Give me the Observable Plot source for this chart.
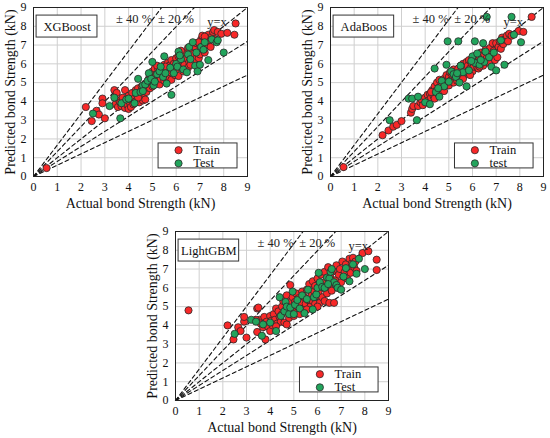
<!DOCTYPE html>
<html>
<head>
<meta charset="utf-8">
<script src="https://cdn.jsdelivr.net/npm/d3@7"></script>
<script src="https://cdn.jsdelivr.net/npm/@observablehq/plot@0.6"></script>
<style>
  body { margin: 0; background: #fff; }
  #fig { position: relative; width: 550px; height: 438px; background: #fff; overflow: hidden; }
  .panel { position: absolute; }
</style>
</head>
<body>
<div id="fig"></div>
<script>
// ---------- data ----------
const tickValues = [0, 1, 2, 3, 4, 5, 6, 7, 8, 9];
const guideSlopes = [1.67, 1.33, 1, 0.8, 0.6];
const guideLabels = ["± 40 %", "± 20 %", "y=x"];
const modelNames = ["XGBoost", "AdaBoos", "LightGBM"];
const legendXGB = ["Train", "Test"];
const legendAda = ["Train", "test"];
const legendLGB = ["Train", "Test"];

const xgbTrain = [[0.55,0.45],[2.2,3.7],[2.45,2.95],[2.65,3.5],[2.75,3.3],[2.9,4.15],[2.9,3.9],[3.0,3.1],
[3.4,4.6],[3.5,4.45],[3.45,3.85],[3.55,3.7],[3.6,4.05],[3.65,3.95],[3.7,3.75],[3.75,4.2],[3.8,3.9],[3.85,4.6],[3.85,3.65],[3.9,4.0],[3.95,3.8],[4.0,4.3],[4.0,3.6],[4.05,3.95],[4.1,4.1],[4.1,3.7],[4.15,4.45],[4.2,3.85],[4.25,4.15],[4.3,4.6],[4.3,4.0],[4.35,4.35],[4.4,4.7],[4.45,3.95],[4.5,4.5],[4.55,4.8],[4.6,4.3],[4.6,4.05],[4.65,4.6],[4.7,4.95],[4.7,4.1],[4.75,4.5],[4.8,4.75],[4.85,5.2],[4.9,4.7],[4.95,5.0],[5.0,5.6],[5.0,4.8],[5.05,5.25],[5.1,5.75],[5.1,4.95],[5.15,5.4],[5.2,5.1],[5.25,5.7],[5.3,4.9],[5.3,5.45],[5.35,5.2],[5.4,5.8],[5.45,5.55],[5.5,5.1],[5.5,5.95],[5.55,5.4],[5.6,5.7],[5.65,6.05],[5.7,5.25],[5.7,5.9],[5.75,5.55],[5.8,6.2],[5.8,5.15],[5.85,5.75],[5.9,6.0],[5.95,5.4],[6.0,6.3],[6.0,5.7],[6.05,5.9],[6.1,6.4],[6.1,5.35],[6.15,6.1],[6.2,5.8],[6.25,6.5],[6.3,6.2],[6.3,5.6],[6.35,5.95],[6.4,6.6],[6.45,6.3],[6.5,5.8],[6.5,6.85],[6.55,6.1],[6.6,6.45],[6.65,6.75],[6.7,6.0],[6.75,6.55],[6.8,6.9],[6.8,6.25],[6.85,7.1],[6.9,6.6],[6.95,6.3],[7.0,7.0],[7.0,6.5],[7.05,7.3],[7.1,6.8],[7.1,7.5],[7.15,7.15],[7.2,6.6],[7.25,7.4],[7.3,7.0],[7.35,7.55],[7.4,7.25],[7.45,6.9],[7.5,7.45],[7.55,7.7],[7.6,7.8],[7.65,7.3],[7.75,7.7],[7.9,7.6],[8.15,7.65],[8.45,7.55],[8.5,8.15],[5.2,5.9],[5.55,5.85],[4.4,4.2],[6.2,6.7],[6.6,5.95],[7.2,7.45],[6.95,7.15]];
const xgbTest = [[2.5,3.35],[3.2,3.75],[3.4,4.2],[3.65,3.1],[3.7,3.9],[3.9,4.1],[4.0,4.15],[4.25,3.9],[4.3,4.45],[4.4,5.2],[4.5,4.5],[4.6,4.85],[4.7,4.9],[4.8,5.1],[4.85,5.5],[4.95,5.2],[5.0,6.1],[5.05,4.85],[5.1,5.05],[5.2,5.45],[5.3,5.6],[5.45,5.3],[5.5,6.4],[5.55,5.5],[5.6,4.95],[5.8,4.35],[5.75,5.8],[5.9,5.5],[6.0,6.0],[6.05,5.85],[6.1,6.65],[6.2,6.25],[6.3,5.7],[6.45,5.55],[6.5,6.5],[6.55,6.9],[6.6,6.25],[6.7,7.15],[6.8,5.9],[6.85,6.6],[6.9,5.6],[7.0,5.95],[7.05,6.9],[7.15,6.75],[7.2,7.15],[7.35,6.2],[7.5,7.3],[7.7,7.15],[7.75,7.25],[8.0,6.6],[6.15,6.45],[5.35,5.85],[4.6,4.55]];

const adaTrain = [[0.55,0.5],[2.2,2.2],[2.45,2.45],[2.65,2.65],[2.8,2.75],[3.0,2.95],[3.4,3.4],[3.45,3.6],[3.5,3.75],[3.7,3.75],[3.8,3.95],[3.85,4.1],[3.9,3.8],[4.0,4.2],[4.05,3.95],[4.1,4.35],[4.15,4.05],[4.2,4.4],[4.25,4.2],[4.3,4.6],[4.35,4.3],[4.4,4.8],[4.4,4.15],[4.45,4.55],[4.5,5.0],[4.55,4.4],[4.6,4.75],[4.6,5.15],[4.65,4.6],[4.7,4.95],[4.75,4.7],[4.8,5.2],[4.85,4.9],[4.9,5.4],[4.95,5.05],[5.0,5.3],[5.0,4.85],[5.05,5.55],[5.1,5.15],[5.15,5.4],[5.2,5.0],[5.2,5.7],[5.25,5.3],[5.3,5.55],[5.35,5.1],[5.4,5.75],[5.45,5.45],[5.5,5.9],[5.5,5.25],[5.55,5.6],[5.6,6.0],[5.65,5.4],[5.7,5.8],[5.75,6.1],[5.8,5.55],[5.8,5.9],[5.85,6.2],[5.9,5.75],[5.95,6.05],[6.0,5.6],[6.0,6.3],[6.05,5.85],[6.1,6.15],[6.15,6.45],[6.2,5.8],[6.2,6.0],[6.25,5.75],[6.3,6.3],[6.35,6.6],[6.4,6.1],[6.45,5.9],[6.5,6.5],[6.55,6.75],[6.6,6.3],[6.65,6.6],[6.7,6.05],[6.75,6.85],[6.8,6.4],[6.85,7.1],[6.9,6.7],[6.95,6.2],[7.0,7.1],[7.05,6.35],[7.1,6.9],[7.15,7.2],[7.2,6.8],[7.25,7.4],[7.3,7.05],[7.35,7.3],[7.45,7.5],[7.5,7.2],[7.55,7.6],[7.65,7.5],[7.95,7.75],[8.15,7.7],[8.5,8.5],[5.9,5.4],[6.3,5.85],[4.25,4.5],[4.8,4.55],[5.6,5.2]];
const adaTest = [[2.5,3.0],[3.3,4.15],[3.45,4.15],[3.65,3.0],[3.7,4.25],[4.0,3.95],[4.2,3.85],[4.4,5.75],[4.45,4.5],[4.6,4.25],[4.7,5.1],[4.8,4.8],[4.9,5.95],[4.95,7.2],[5.0,5.05],[5.1,5.6],[5.2,5.45],[5.3,5.3],[5.4,7.2],[5.45,5.0],[5.5,5.9],[5.6,5.55],[5.75,4.8],[5.85,5.65],[6.0,6.4],[6.1,6.05],[6.1,7.2],[6.2,6.55],[6.3,5.95],[6.45,7.1],[6.5,6.1],[6.55,6.65],[6.6,8.5],[6.7,6.35],[6.8,5.85],[6.9,6.6],[7.0,5.65],[7.2,7.25],[7.35,5.95],[7.65,8.5],[7.75,7.55],[8.05,7.15],[5.35,5.5],[4.55,4.7],[6.35,6.2],[5.95,6.15]];

const lgbTrain = [[0.55,4.8],[2.2,4.0],[2.45,3.25],[2.65,3.9],[2.75,3.7],[2.9,4.2],[2.9,4.45],[3.0,3.35],[3.45,4.9],[3.5,4.95],[3.45,3.65],[3.55,4.3],[3.6,4.1],[3.7,3.9],[3.75,4.45],[3.8,3.25],[3.85,4.2],[3.9,3.95],[4.0,3.7],[4.0,4.5],[4.05,4.25],[4.1,4.0],[4.15,4.6],[4.2,4.3],[4.25,4.9],[4.3,4.1],[4.35,4.75],[4.4,4.45],[4.45,4.2],[4.5,5.0],[4.5,4.6],[4.55,5.3],[4.6,4.15],[4.65,4.8],[4.7,4.05],[4.7,5.6],[4.75,5.05],[4.8,4.4],[4.85,6.15],[4.85,5.3],[4.9,4.7],[4.95,5.5],[5.0,4.95],[5.0,4.5],[5.05,5.25],[5.1,5.7],[5.1,4.75],[5.15,5.0],[5.2,5.45],[5.25,4.6],[5.3,5.2],[5.35,5.8],[5.4,4.9],[5.45,5.5],[5.5,5.15],[5.55,5.9],[5.6,5.35],[5.65,6.2],[5.7,5.0],[5.75,5.6],[5.8,6.35],[5.8,5.3],[5.85,5.85],[5.9,6.1],[5.9,5.15],[5.95,5.55],[6.0,6.5],[6.05,5.8],[6.1,5.2],[6.1,6.2],[6.15,6.7],[6.2,5.5],[6.25,6.0],[6.3,6.85],[6.3,5.3],[6.35,6.35],[6.4,5.7],[6.45,7.1],[6.5,6.15],[6.5,5.2],[6.55,6.55],[6.6,5.85],[6.65,6.9],[6.7,5.2],[6.75,6.4],[6.8,7.2],[6.85,6.0],[6.9,6.7],[6.95,7.0],[7.0,6.3],[7.05,7.4],[7.1,6.6],[7.15,6.85],[7.2,7.25],[7.25,6.5],[7.3,7.0],[7.35,7.55],[7.4,6.8],[7.45,7.3],[7.5,7.6],[7.55,7.1],[7.6,7.4],[7.65,6.9],[7.9,7.85],[8.15,7.95],[8.5,7.5],[8.5,6.95],[3.4,4.3],[4.25,3.95],[5.55,4.85],[6.0,5.0]];
const lgbTest = [[2.5,3.55],[3.2,4.3],[3.4,4.2],[3.65,3.45],[3.7,4.05],[4.0,4.15],[4.25,3.7],[4.4,5.5],[4.45,4.5],[4.6,4.75],[4.65,5.25],[4.7,5.0],[4.8,4.6],[4.85,4.95],[4.95,5.8],[5.0,4.6],[5.05,5.1],[5.15,5.35],[5.25,4.9],[5.35,5.6],[5.45,4.65],[5.55,5.4],[5.8,4.85],[5.85,5.5],[5.95,5.65],[6.0,6.0],[6.05,6.8],[6.1,6.3],[6.2,6.05],[6.3,6.0],[6.4,6.55],[6.5,6.5],[6.55,6.85],[6.6,7.0],[6.7,6.3],[6.8,6.15],[6.85,6.0],[7.0,5.9],[7.1,6.6],[7.2,7.05],[7.35,6.35],[7.5,7.25],[7.65,6.75],[7.75,7.55],[8.0,7.0],[5.6,5.9],[6.45,6.2]];

// ---------- drawing ----------
const RED = "#f82828", GREEN = "#22a45c", EDGE = "#2a2a2a";
const FONT = "'Liberation Serif', 'Times New Roman', serif";

const guides = guideSlopes.flatMap((s, i) => [
  {g: i, x: 0, y: 0},
  {g: i, x: s >= 1 ? 9 / s : 9, y: s >= 1 ? 9 : 9 * s}
]);

function panel({name, train, test, legend, left, top, width, height, mL, mR, mT, mB}) {
  const legendRows = [{lab: legend[0], y: 1.4, fill: RED}, {lab: legend[1], y: 0.7, fill: GREEN}];
  const annot = [
    {t: guideLabels[0], x: 4.23, y: 8.38},
    {t: guideLabels[1], x: 5.99, y: 8.38},
    {t: guideLabels[2], x: 7.72, y: 8.22}
  ];
  const svg = Plot.plot({
    width, height,
    marginLeft: mL, marginRight: mR, marginTop: mT, marginBottom: mB,
    style: {fontFamily: FONT, fontSize: "12px", color: "#111", background: "transparent", overflow: "visible"},
    x: {domain: [0, 9], ticks: tickValues},
    y: {domain: [0, 9], ticks: tickValues},
    marks: [
      Plot.gridX(tickValues, {stroke: "#cfcfcf", strokeOpacity: 1, strokeWidth: 1}),
      Plot.gridY(tickValues, {stroke: "#cfcfcf", strokeOpacity: 1, strokeWidth: 1}),
      Plot.line(guides, {x: "x", y: "y", z: "g", stroke: "#111", strokeWidth: 1.1, strokeDasharray: "4,3"}),
      Plot.dot(train, {x: d => d[0], y: d => d[1], r: 3.6, fill: RED, stroke: EDGE, strokeWidth: 0.8}),
      Plot.dot(test, {x: d => d[0], y: d => d[1], r: 3.6, fill: GREEN, stroke: EDGE, strokeWidth: 0.8}),
      Plot.text(annot, {x: "x", y: "y", text: "t", fontSize: 12.5, fill: "#222"}),
      Plot.rect([name], {x1: 0.13, x2: 2.69, y1: 7.4, y2: 8.57, fill: "#fff", stroke: "#333", strokeWidth: 1}),
      Plot.text([name], {x: 1.41, y: 7.98, text: d => d, fontSize: 12.5, fill: "#111"}),
      Plot.rect([0], {x1: 5.26, x2: 8.58, y1: 0.43, y2: 1.76, fill: "#fff", stroke: "#333", strokeWidth: 1}),
      Plot.dot(legendRows, {x: 6.1, y: "y", r: 3.6, fill: "fill", stroke: EDGE, strokeWidth: 0.8}),
      Plot.text(legendRows, {x: 6.72, y: "y", text: "lab", textAnchor: "start", fontSize: 12.5, fill: "#111"}),
      Plot.frame({stroke: "#222", strokeWidth: 1}),
      Plot.axisX(tickValues, {tickSize: 0, tickPadding: 6, fontSize: 12, label: null}),
      Plot.axisY(tickValues, {tickSize: 0, tickPadding: 7, fontSize: 12, label: null}),
      Plot.text(["Actual bond Strength (kN)"], {frameAnchor: "bottom", textAnchor: "middle", lineAnchor: "middle", dy: 27, fontSize: 14, fill: "#111"}),
      Plot.text(["Predicted bond Strength (kN)"], {frameAnchor: "left", textAnchor: "middle", lineAnchor: "middle", dx: -23, rotate: -90, fontSize: 14, fill: "#111"})
    ]
  });
  const wrap = document.createElement("div");
  wrap.className = "panel";
  wrap.style.left = left + "px";
  wrap.style.top = top + "px";
  wrap.appendChild(svg);
  document.getElementById("fig").appendChild(wrap);
}

panel({name: modelNames[0], train: xgbTrain, test: xgbTest, legend: legendXGB,
  left: 0, top: 0, width: 260, height: 215, mL: 33, mR: 13, mT: 7, mB: 39});
panel({name: modelNames[1], train: adaTrain, test: adaTest, legend: legendAda,
  left: 290, top: 0, width: 260, height: 215, mL: 40, mR: 7, mT: 7, mB: 39});
panel({name: modelNames[2], train: lgbTrain, test: lgbTest, legend: legendLGB,
  left: 142, top: 224, width: 260, height: 214, mL: 33, mR: 14, mT: 7, mB: 38});
</script>
</body>
</html>
